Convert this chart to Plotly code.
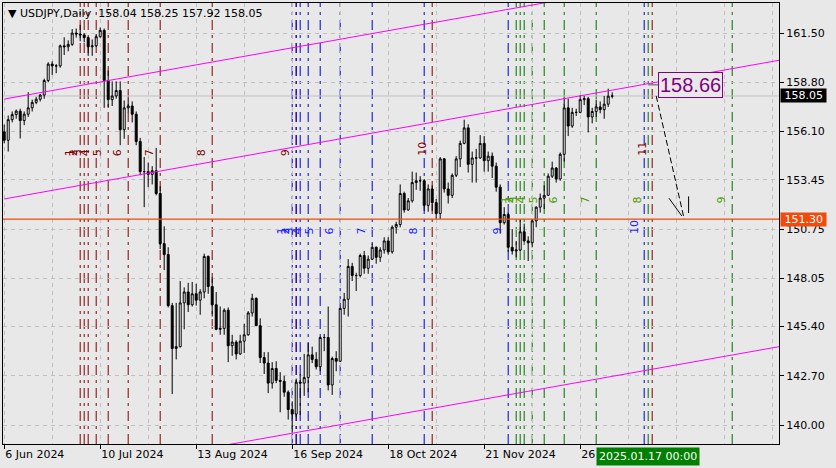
import pandas as pd
import plotly.graph_objects as go

# ---------------- data ----------------
header_text = "\u25bc USDJPY,Daily\u00a0\u00a0158.04 158.25 157.92 158.05"

holidays = ["2024-12-25", "2025-01-01"]
dates = [d.strftime("%Y-%m-%d") for d in pd.bdate_range("2024-06-06", "2025-01-08")
         if d.strftime("%Y-%m-%d") not in holidays]

opens = [156.08, 155.62, 156.75, 157.03, 157.22, 156.70, 157.05, 157.40, 157.70, 157.87,
         158.10, 158.90, 159.80, 159.70, 159.70, 160.80, 160.75, 160.88, 161.50, 161.45,
         161.40, 161.25, 160.75, 160.80, 161.30, 161.65, 158.90, 157.85, 158.05, 158.35,
         156.20, 157.40, 157.50, 157.05, 155.55, 153.90, 153.90, 153.75, 153.95, 152.70,
         149.95, 149.35, 146.55, 144.20, 144.30, 146.70, 147.30, 146.60, 147.20, 146.85,
         147.30, 149.25, 147.60, 146.60, 145.25, 145.30, 146.30, 144.35, 144.55, 143.90,
         144.60, 144.95, 146.15, 146.95, 145.45, 143.70, 143.40, 142.30, 143.10, 142.45,
         142.40, 141.80, 140.85, 140.60, 142.35, 142.30, 142.60, 143.85, 143.60, 143.20,
         144.80, 144.80, 142.20, 143.65, 143.50, 146.40, 146.90, 148.70, 148.20, 148.20,
         149.30, 148.60, 149.10, 149.75, 149.20, 149.60, 150.10, 149.50, 150.85, 151.00,
         152.70, 151.80, 152.30, 153.30, 153.40, 153.40, 152.05, 152.95, 152.20, 151.60,
         154.60, 152.95, 152.60, 153.70, 154.60, 155.45, 156.30, 154.30, 154.65, 154.65,
         155.45, 154.50, 154.75, 154.20, 153.05, 151.10, 151.55, 149.75, 149.55, 149.60,
         150.60, 150.10, 150.00, 151.20, 151.95, 152.45, 152.60, 153.65, 154.10, 153.50,
         154.85, 157.40, 156.40, 157.15, 157.15, 157.85, 157.90, 156.90, 157.20, 157.45,
         157.30, 157.60, 158.04]
highs = [156.48, 156.98, 157.20, 157.31, 157.35, 157.20, 158.26, 157.85, 158.00, 158.15,
         159.00, 159.90, 159.95, 159.80, 160.87, 161.27, 161.10, 161.72, 161.75, 161.95,
         161.50, 161.30, 161.15, 161.45, 161.80, 161.75, 159.45, 158.85, 158.85, 158.85,
         157.80, 157.90, 157.75, 157.20, 155.75, 154.70, 154.40, 154.20, 155.20, 153.10,
         150.90, 149.75, 146.70, 146.70, 147.90, 147.55, 147.80, 147.85, 147.75, 147.45,
         149.40, 149.30, 148.10, 147.30, 146.50, 146.40, 146.45, 144.95, 144.65, 144.95,
         145.55, 146.25, 147.20, 147.00, 145.85, 144.00, 144.00, 143.45, 143.50, 142.90,
         142.70, 141.90, 141.30, 142.55, 142.80, 143.90, 144.50, 144.30, 144.00, 144.85,
         145.00, 146.50, 143.75, 144.05, 146.55, 147.25, 149.10, 148.90, 148.35, 149.40,
         149.55, 149.30, 149.95, 149.80, 149.75, 150.30, 150.30, 150.95, 151.15, 153.20,
         152.80, 152.45, 153.90, 153.85, 153.65, 153.50, 153.20, 153.15, 152.40, 154.70,
         154.65, 153.30, 153.80, 154.75, 155.60, 156.75, 156.50, 155.00, 155.15, 155.90,
         155.85, 155.00, 154.95, 154.40, 153.20, 151.95, 151.65, 150.75, 150.10, 151.25,
         151.05, 150.35, 151.30, 152.00, 152.70, 153.15, 153.80, 154.45, 154.15, 154.95,
         157.95, 157.90, 157.40, 157.35, 158.10, 158.05, 158.00, 157.40, 157.85, 157.75,
         158.05, 158.45, 158.25]
lows = [155.45, 155.00, 156.60, 156.80, 155.72, 156.45, 156.90, 157.20, 157.60, 157.75,
        157.90, 158.80, 159.20, 159.30, 159.60, 160.30, 160.50, 160.80, 161.25, 161.05,
        161.00, 160.25, 160.25, 160.75, 161.25, 157.40, 157.40, 157.50, 157.90, 155.35,
        155.70, 157.15, 156.60, 155.35, 153.70, 151.95, 153.05, 153.20, 152.60, 149.65,
        148.50, 146.45, 141.70, 143.60, 144.25, 145.25, 146.20, 146.50, 146.55, 146.05,
        146.95, 147.20, 145.95, 145.20, 144.95, 144.95, 143.45, 143.80, 143.60, 143.85,
        143.95, 144.90, 145.95, 145.45, 143.40, 142.80, 141.75, 142.00, 142.30, 140.70,
        141.55, 140.30, 139.58, 140.45, 140.55, 141.60, 141.80, 143.40, 143.05, 142.95,
        144.05, 141.90, 141.65, 142.95, 143.45, 146.05, 145.95, 147.90, 147.35, 148.10,
        148.30, 148.30, 149.05, 148.85, 148.95, 149.40, 149.35, 149.40, 150.50, 150.85,
        151.65, 151.75, 152.20, 152.90, 152.85, 151.75, 151.70, 151.75, 151.30, 151.30,
        152.75, 152.15, 152.45, 153.60, 154.15, 155.40, 153.85, 153.30, 153.30, 154.60,
        153.90, 153.90, 153.55, 152.80, 150.50, 151.00, 149.50, 149.35, 149.20, 149.55,
        150.05, 149.00, 149.75, 150.85, 151.65, 151.85, 152.60, 153.55, 153.30, 153.40,
        154.45, 155.85, 156.30, 156.95, 157.10, 157.55, 156.05, 156.55, 156.90, 157.10,
        156.80, 157.45, 157.92]
closes = [155.62, 156.75, 157.03, 157.22, 156.70, 157.05, 157.40, 157.70, 157.87, 158.10,
          158.90, 159.80, 159.70, 159.70, 160.80, 160.75, 160.88, 161.50, 161.45, 161.40,
          161.25, 160.75, 160.80, 161.30, 161.65, 158.90, 157.85, 158.05, 158.35, 156.20,
          157.40, 157.50, 157.05, 155.55, 153.90, 153.90, 153.75, 153.95, 152.70, 149.95,
          149.35, 146.55, 144.20, 144.30, 146.70, 147.30, 146.60, 147.20, 146.85, 147.30,
          149.25, 147.60, 146.60, 145.25, 145.30, 146.30, 144.35, 144.55, 143.90, 144.60,
          144.95, 146.15, 146.95, 145.45, 143.70, 143.40, 142.30, 143.10, 142.45, 142.40,
          141.80, 140.85, 140.60, 142.35, 142.30, 142.60, 143.85, 143.60, 143.20, 144.80,
          144.80, 142.20, 143.65, 143.50, 146.40, 146.90, 148.70, 148.20, 148.20, 149.30,
          148.60, 149.10, 149.75, 149.20, 149.60, 150.10, 149.50, 150.85, 151.00, 152.70,
          151.80, 152.30, 153.30, 153.40, 153.40, 152.05, 152.95, 152.20, 151.60, 154.60,
          152.95, 152.60, 153.70, 154.60, 155.45, 156.30, 154.30, 154.65, 154.65, 155.45,
          154.50, 154.75, 154.20, 153.05, 151.10, 151.55, 149.75, 149.55, 149.60, 150.60,
          150.10, 150.00, 151.20, 151.95, 152.45, 152.60, 153.65, 154.10, 153.50, 154.85,
          157.40, 156.40, 157.15, 157.15, 157.85, 157.90, 156.90, 157.20, 157.45, 157.30,
          157.60, 158.04, 158.05]

tick_dates = ["2024-06-06", "2024-07-10", "2024-08-13", "2024-09-16",
              "2024-10-18", "2024-11-21", "2024-12-26"]
tick_labels = ["6 Jun 2024", "10 Jul 2024", "13 Aug 2024", "16 Sep 2024",
               "18 Oct 2024", "21 Nov 2024", "26 Dec 2024"]
grid_step_bars = 12

price_ticks = [140.00, 142.70, 145.40, 148.05, 150.75, 153.45, 156.10, 158.80, 161.50]
price_range = [138.96, 163.15]
bar_range = [-0.3, 193.7]

# Fibonacci time zones: base bar + fibonacci offsets
fib_offsets = [1, 2, 3, 5, 8, 13, 21, 34, 55, 89, 144]
fib_red_base, fib_red_count, fib_red_label_price = 18, 11, 154.70
fib_blue_base, fib_blue_count, fib_blue_label_price = 71, 10, 150.42
fib_green_base, fib_green_count, fib_green_label_price = 127, 9, 152.12

# channel lines: (bar, price) endpoints
channel_upper = [(0, 157.88), (194, 165.46)]
channel_middle = [(0, 152.40), (194, 160.02)]
channel_lower = [(0, 136.74), (194, 144.31)]

bid_price = 158.05
support_price = 151.30
target_label = (161, 158.66)
forecast_from = (163, 158.05)
forecast_to = (170, 151.30)
forecast_barbs = [[(166.2, 152.44), (169.4, 151.47)], [(171.1, 152.54), (171.1, 151.63)]]
time_label = (161, "2025.01.17 00:00")

# ---------------- figure ----------------
bars = list(range(len(dates)))
BG = "#e8e8e8"
FONT = "DejaVu Sans"

fig = go.Figure()
fig.add_trace(go.Candlestick(
    x=bars, open=opens, high=highs, low=lows, close=closes,
    increasing=dict(line=dict(color="black", width=1), fillcolor="white"),
    decreasing=dict(line=dict(color="black", width=1), fillcolor="black"),
    whiskerwidth=0, hoverinfo="skip", showlegend=False,
))

shapes = []
annotations = []

dd = "10px,5px,3px,5px"

def fib_set(base, count, line_color, text_color, label_price):
    for k in range(count):
        b = base + fib_offsets[k]
        shapes.append(dict(type="line", xref="x", yref="paper", x0=b, x1=b, y0=0, y1=1,
                           line=dict(color=line_color, width=1, dash=dd), layer="between"))
        annotations.append(dict(x=b - 2.6, y=label_price, xref="x", yref="y", text=str(k + 1),
                                showarrow=False, textangle=-90, xanchor="center", yanchor="bottom",
                                font=dict(family=FONT, size=11, color=text_color), borderpad=0))

fib_set(fib_red_base, fib_red_count, "#800000", "#800000", fib_red_label_price)
fib_set(fib_blue_base, fib_blue_count, "#0000cd", "#1a1aff", fib_blue_label_price)
fib_set(fib_green_base, fib_green_count, "#007000", "#4c9a00", fib_green_label_price)

# bid line
shapes.append(dict(type="line", xref="paper", yref="y", x0=0, x1=1, y0=bid_price, y1=bid_price,
                   line=dict(color="#c0c0c0", width=1), layer="between"))
# channel
for seg in (channel_upper, channel_middle, channel_lower):
    shapes.append(dict(type="line", xref="x", yref="y", x0=seg[0][0], y0=seg[0][1],
                       x1=seg[1][0], y1=seg[1][1], line=dict(color="#ff00ff", width=1), layer="above"))
# support line
shapes.append(dict(type="line", xref="paper", yref="y", x0=0, x1=1, y0=support_price, y1=support_price,
                   line=dict(color="#f04a0c", width=1.2), layer="above"))
# forecast arrow
shapes.append(dict(type="line", xref="x", yref="y", x0=forecast_from[0], y0=forecast_from[1],
                   x1=forecast_to[0], y1=forecast_to[1], line=dict(color="black", width=1, dash="6px,3px"),
                   layer="above"))
for (p0, p1) in forecast_barbs:
    shapes.append(dict(type="line", xref="x", yref="y", x0=p0[0], y0=p0[1], x1=p1[0], y1=p1[1],
                       line=dict(color="black", width=1), layer="above"))

# target label
annotations.append(dict(x=target_label[0], y=target_label[1], xref="x", yref="y",
                        text=f"{target_label[1]:.2f}", showarrow=True, arrowhead=0, arrowwidth=1,
                        arrowcolor="#505050", ax=42, ay=0, xanchor="center", yanchor="middle",
                        font=dict(family="Liberation Sans", size=20, color="#800080"),
                        bgcolor=BG, bordercolor="#800080", borderwidth=1, borderpad=1))
# header
annotations.append(dict(x=0, y=1, xref="paper", yref="paper", text=header_text, showarrow=False,
                        xanchor="left", yanchor="top", xshift=3, yshift=-2,
                        font=dict(family=FONT, size=11, color="black")))
# price labels on axis
annotations.append(dict(x=1, y=bid_price, xref="paper", yref="y", text=f"\u00a0{bid_price:.2f}\u00a0",
                        showarrow=False, xanchor="left", yanchor="middle", xshift=1,
                        bgcolor="black", borderpad=0, font=dict(family=FONT, size=11, color="white")))
annotations.append(dict(x=1, y=support_price, xref="paper", yref="y", text=f"\u00a0{support_price:.2f}\u00a0",
                        showarrow=False, xanchor="left", yanchor="middle", xshift=1,
                        bgcolor="#f04a0c", borderpad=0, font=dict(family=FONT, size=11, color="white")))
# time label
annotations.append(dict(x=time_label[0], y=0, xref="x", yref="paper", text=time_label[1],
                        showarrow=False, xanchor="center", yanchor="top", yshift=-3,
                        bgcolor="#008000", borderpad=2, font=dict(family=FONT, size=11, color="white")))

tick_vals = [dates.index(d) for d in tick_dates]

fig.update_layout(
    width=836, height=468,
    margin=dict(l=3, r=57, t=3, b=24),
    paper_bgcolor=BG, plot_bgcolor=BG,
    font=dict(family=FONT, size=11, color="black"),
    shapes=shapes, annotations=annotations,
    showlegend=False, hovermode=False, boxgap=0.3,
    xaxis=dict(range=bar_range, rangeslider=dict(visible=False), tickmode="array",
               tickvals=tick_vals, ticktext=tick_labels, ticks="outside", ticklen=4,
               tickcolor="black", ticklabelposition="outside right",
               showgrid=True, gridcolor="#c0c0c0", griddash="4px,4px", gridwidth=1,
               minor=dict(tickvals=list(range(0, 194, grid_step_bars)), showgrid=True,
                          gridcolor="#c0c0c0", griddash="4px,4px", ticks=""),
               showline=True, linecolor="black", linewidth=1, mirror=True, zeroline=False),
    yaxis=dict(range=price_range, side="right", tickmode="array", tickvals=price_ticks,
               ticktext=[f"{v:.2f}" for v in price_ticks], ticks="outside", ticklen=4,
               tickcolor="black", showgrid=True, gridcolor="#c0c0c0", griddash="4px,4px",
               showline=True, linecolor="black", linewidth=1, mirror=True, zeroline=False),
)

fig.write_html("out.html", config={"displayModeBar": False},
               post_script="document.body.style.margin='0px';document.body.style.background='" + BG + "';")
